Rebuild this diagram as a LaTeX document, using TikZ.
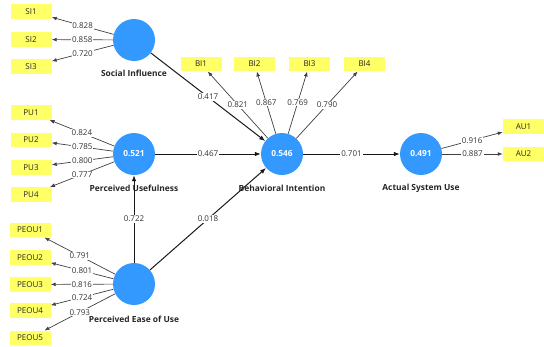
\documentclass[tikz,border=0pt]{standalone}
\usepackage{fontspec}
\setmainfont{Open Sans}
\usetikzlibrary{arrows.meta}
\definecolor{lvblue}{HTML}{3399FF}
\definecolor{indyel}{HTML}{FFFF66}
\definecolor{numgray}{HTML}{333333}
\tikzset{
  lv/.style={circle,fill=lvblue,minimum size=42pt,inner sep=0pt,text=white,font=\fontsize{8.3}{9}\selectfont\bfseries},
  ind/.style={rectangle,fill=indyel,minimum width=41pt,minimum height=14.5pt,inner sep=0pt,font=\fontsize{8}{9}\selectfont,text=black!85},
  lvname/.style={font=\fontsize{8.4}{9}\selectfont\bfseries,text=black!85},
  loading/.style={draw=black!75,line width=0.7pt,-{Latex[length=5pt,width=3.8pt]}},
  path/.style={draw=black!90,line width=1pt,-{Latex[length=6pt,width=4.6pt]}},
  coef/.style={fill=white,inner sep=0.8pt,font=\fontsize{8}{9}\selectfont,text=numgray,pos=0.5}
}
\begin{document}
\begin{tikzpicture}[x=1pt,y=-1pt]
\useasboundingbox (0,0) rectangle (544,346);
% latent variables
\node[lv] (SI) at (134,40) {};
\node[lv] (PU) at (134,154) {0.521};
\node[lv] (PEOU) at (134,284) {};
\node[lv] (BI) at (282,154) {0.546};
\node[lv] (ASU) at (421,154) {0.491};
% names
\node[lvname] at (134,73) {Social Influence};
\node[lvname] at (134,188) {Perceived Usefulness};
\node[lvname] at (134,319) {Perceived Ease of Use};
\node[lvname] at (282,188) {Behavioral Intention};
\node[lvname] at (421,188.5) {Actual System Use};
% indicators
\node[ind] (SI1) at (31,11.5) {SI1};
\node[ind] (SI2) at (31,39.5) {SI2};
\node[ind] (SI3) at (31,66.5) {SI3};
\node[ind] (PU1) at (31,112.5) {PU1};
\node[ind] (PU2) at (31,140) {PU2};
\node[ind] (PU3) at (31,167.5) {PU3};
\node[ind] (PU4) at (31,194.5) {PU4};
\node[ind] (PEOU1) at (30,230) {PEOU1};
\node[ind] (PEOU2) at (30,257.5) {PEOU2};
\node[ind] (PEOU3) at (30,284.5) {PEOU3};
\node[ind] (PEOU4) at (30,310.5) {PEOU4};
\node[ind] (PEOU5) at (30,338) {PEOU5};
\node[ind] (BI1) at (201,64) {BI1};
\node[ind] (BI2) at (254.5,64) {BI2};
\node[ind] (BI3) at (309.5,64) {BI3};
\node[ind] (BI4) at (364.5,64) {BI4};
\node[ind] (AU1) at (523.5,126.5) {AU1};
\node[ind] (AU2) at (523.5,154) {AU2};
% structural paths
\draw[path] (SI) -- node[coef]{0.417} (BI);
\draw[path] (PU) -- node[coef]{0.467} (BI);
\draw[path] (PEOU) -- node[coef]{0.722} (PU);
\draw[path] (PEOU) -- node[coef]{0.018} (BI);
\draw[path] (BI) -- node[coef]{0.701} (ASU);
% loadings
\draw[loading] (SI) -- node[coef]{0.828} (SI1);
\draw[loading] (SI) -- node[coef]{0.858} (SI2);
\draw[loading] (SI) -- node[coef]{0.720} (SI3);
\draw[loading] (PU) -- node[coef]{0.824} (PU1);
\draw[loading] (PU) -- node[coef]{0.785} (PU2);
\draw[loading] (PU) -- node[coef]{0.800} (PU3);
\draw[loading] (PU) -- node[coef]{0.777} (PU4);
\draw[loading] (PEOU) -- node[coef]{0.791} (PEOU1);
\draw[loading] (PEOU) -- node[coef]{0.801} (PEOU2);
\draw[loading] (PEOU) -- node[coef]{0.816} (PEOU3);
\draw[loading] (PEOU) -- node[coef]{0.724} (PEOU4);
\draw[loading] (PEOU) -- node[coef]{0.793} (PEOU5);
\draw[loading] (BI) -- node[coef]{0.821} (BI1);
\draw[loading] (BI) -- node[coef]{0.867} (BI2);
\draw[loading] (BI) -- node[coef]{0.769} (BI3);
\draw[loading] (BI) -- node[coef]{0.790} (BI4);
\draw[loading] (ASU) -- node[coef]{0.916} (AU1);
\draw[loading] (ASU) -- node[coef]{0.887} (AU2);
\end{tikzpicture}
\end{document}
